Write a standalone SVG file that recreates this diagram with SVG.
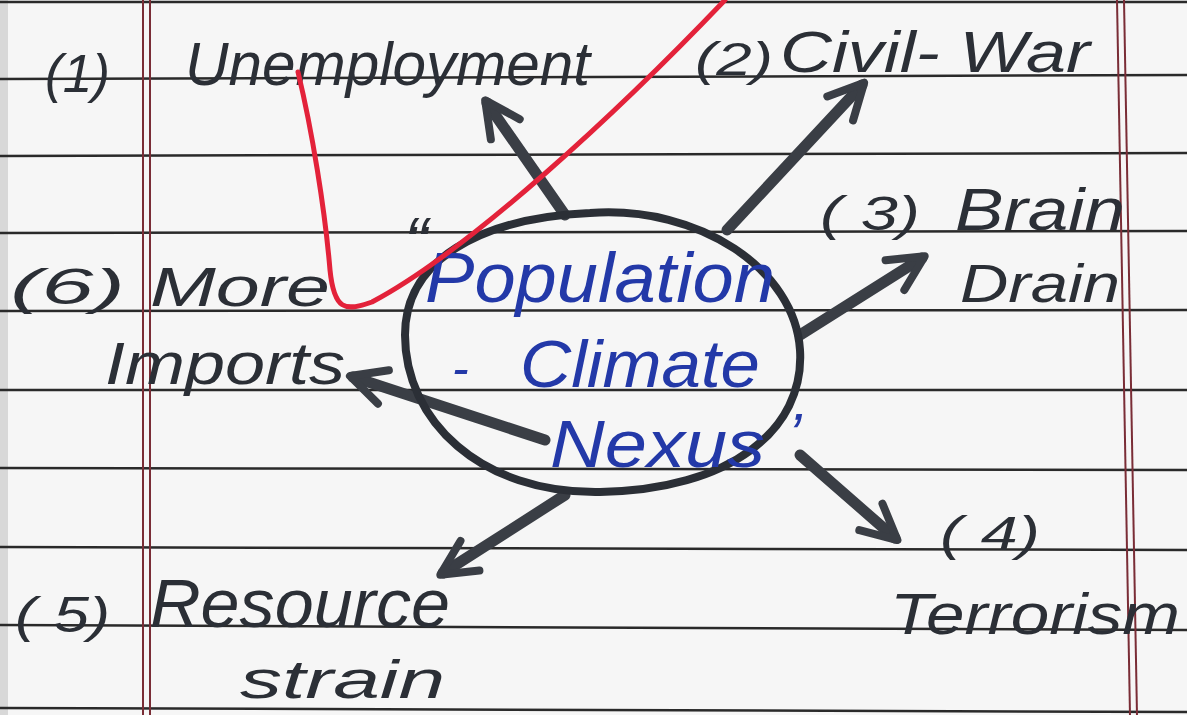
<svg xmlns="http://www.w3.org/2000/svg" width="1187" height="715" viewBox="0 0 1187 715">
<defs>
<style>
.rule{stroke:#2a2a2a;stroke-width:2.5;fill:none}
.margin{stroke:#7a2d36;stroke-width:2;fill:none}
.ink{font-family:"Liberation Sans","DejaVu Sans",sans-serif;fill:#2b2f36;font-style:italic}
.blue{font-family:"Liberation Sans","DejaVu Sans",sans-serif;fill:#2339a8;font-style:italic}
.arrow{stroke:#3a3e45;stroke-width:11;fill:none;stroke-linecap:round;marker-end:url(#head)}
</style>
<marker id="head" viewBox="0 0 30 30" refX="24" refY="15" markerWidth="48" markerHeight="48" markerUnits="userSpaceOnUse" orient="auto">
<path d="M4,4 L26,15 L4,26" fill="none" stroke="#3a3e45" stroke-width="5" stroke-linecap="round" stroke-linejoin="round"/>
</marker>
</defs>
<rect width="1187" height="715" fill="#f6f6f6"/>
<rect width="8" height="715" fill="#d8d8d8"/>
<g id="paper">
<line class="rule" x1="0" y1="2" x2="1187" y2="2"/>
<line class="rule" x1="0" y1="79" x2="1187" y2="75"/>
<line class="rule" x1="0" y1="156" x2="1187" y2="153"/>
<line class="rule" x1="0" y1="233" x2="1187" y2="231"/>
<line class="rule" x1="0" y1="311" x2="1187" y2="310"/>
<line class="rule" x1="0" y1="390" x2="1187" y2="390"/>
<line class="rule" x1="0" y1="468" x2="1187" y2="470"/>
<line class="rule" x1="0" y1="547" x2="1187" y2="550"/>
<line class="rule" x1="0" y1="625" x2="1187" y2="630"/>
<line class="rule" x1="0" y1="708" x2="1187" y2="712"/>
<line class="margin" x1="143" y1="0" x2="143" y2="715"/>
<line class="margin" x1="150" y1="0" x2="150" y2="715"/>
<line class="margin" x1="1117" y1="0" x2="1130" y2="715"/>
<line class="margin" x1="1124" y1="0" x2="1137" y2="715"/>
</g>
<g id="connectors">
<line class="arrow" x1="565" y1="215" x2="487" y2="103"/>
<line class="arrow" x1="727" y1="230" x2="862" y2="85"/>
<line class="arrow" x1="800" y1="335" x2="922" y2="258"/>
<line class="arrow" x1="800" y1="455" x2="895" y2="538"/>
<line class="arrow" x1="565" y1="495" x2="443" y2="573"/>
<line class="arrow" x1="545" y1="440" x2="353" y2="377"/>
</g>
<g id="center">
<path d="M590,213 C700,205 795,270 800,350 C805,430 730,490 600,492 C480,494 405,420 405,335 C405,260 480,218 590,213 Z" fill="none" stroke="#2b2f36" stroke-width="8"/>
<text class="ink" x="404" y="268" font-size="72">“</text>
<text class="blue" x="425" y="302" font-size="70" textLength="350" lengthAdjust="spacingAndGlyphs">Population</text>
<text class="blue" x="452" y="385" font-size="50">-</text>
<text class="blue" x="520" y="387" font-size="66" textLength="240" lengthAdjust="spacingAndGlyphs">Climate</text>
<text class="blue" x="550" y="467" font-size="66" textLength="215" lengthAdjust="spacingAndGlyphs">Nexus</text>
<text class="blue" x="788" y="455" font-size="60">’</text>
</g>
<g id="n1">
<text class="ink" x="45" y="92" font-size="54" textLength="65" lengthAdjust="spacingAndGlyphs">(1)</text>
<text class="ink" x="185" y="85" font-size="62" textLength="405" lengthAdjust="spacingAndGlyphs">Unemployment</text>
</g>
<g id="n2">
<text class="ink" x="695" y="75" font-size="46" textLength="78" lengthAdjust="spacingAndGlyphs">(2)</text>
<text class="ink" x="780" y="72" font-size="58" textLength="310" lengthAdjust="spacingAndGlyphs">Civil- War</text>
</g>
<g id="n3">
<text class="ink" x="820" y="230" font-size="48" textLength="100" lengthAdjust="spacingAndGlyphs">( 3)</text>
<text class="ink" x="955" y="230" font-size="60" textLength="170" lengthAdjust="spacingAndGlyphs">Brain</text>
<text class="ink" x="960" y="302" font-size="54" textLength="160" lengthAdjust="spacingAndGlyphs">Drain</text>
</g>
<g id="n4">
<text class="ink" x="940" y="550" font-size="48" textLength="100" lengthAdjust="spacingAndGlyphs">( 4)</text>
<text class="ink" x="890" y="634" font-size="58" textLength="290" lengthAdjust="spacingAndGlyphs">Terrorism</text>
</g>
<g id="n5">
<text class="ink" x="15" y="632" font-size="50" textLength="95" lengthAdjust="spacingAndGlyphs">( 5)</text>
<text class="ink" x="150" y="627" font-size="68" textLength="300" lengthAdjust="spacingAndGlyphs">Resource</text>
<text class="ink" x="240" y="698" font-size="54" textLength="205" lengthAdjust="spacingAndGlyphs">strain</text>
</g>
<g id="n6">
<text class="ink" x="10" y="304" font-size="50" textLength="115" lengthAdjust="spacingAndGlyphs">(6)</text>
<text class="ink" x="150" y="306" font-size="56" textLength="180" lengthAdjust="spacingAndGlyphs">More</text>
<text class="ink" x="105" y="384" font-size="60" textLength="240" lengthAdjust="spacingAndGlyphs">Imports</text>
</g>
<path d="M298,72 C312,130 325,210 330,270 C334,310 345,312 372,302 C470,250 620,110 725,0" fill="none" stroke="#e3223a" stroke-width="5" stroke-linecap="round"/>
</svg>
